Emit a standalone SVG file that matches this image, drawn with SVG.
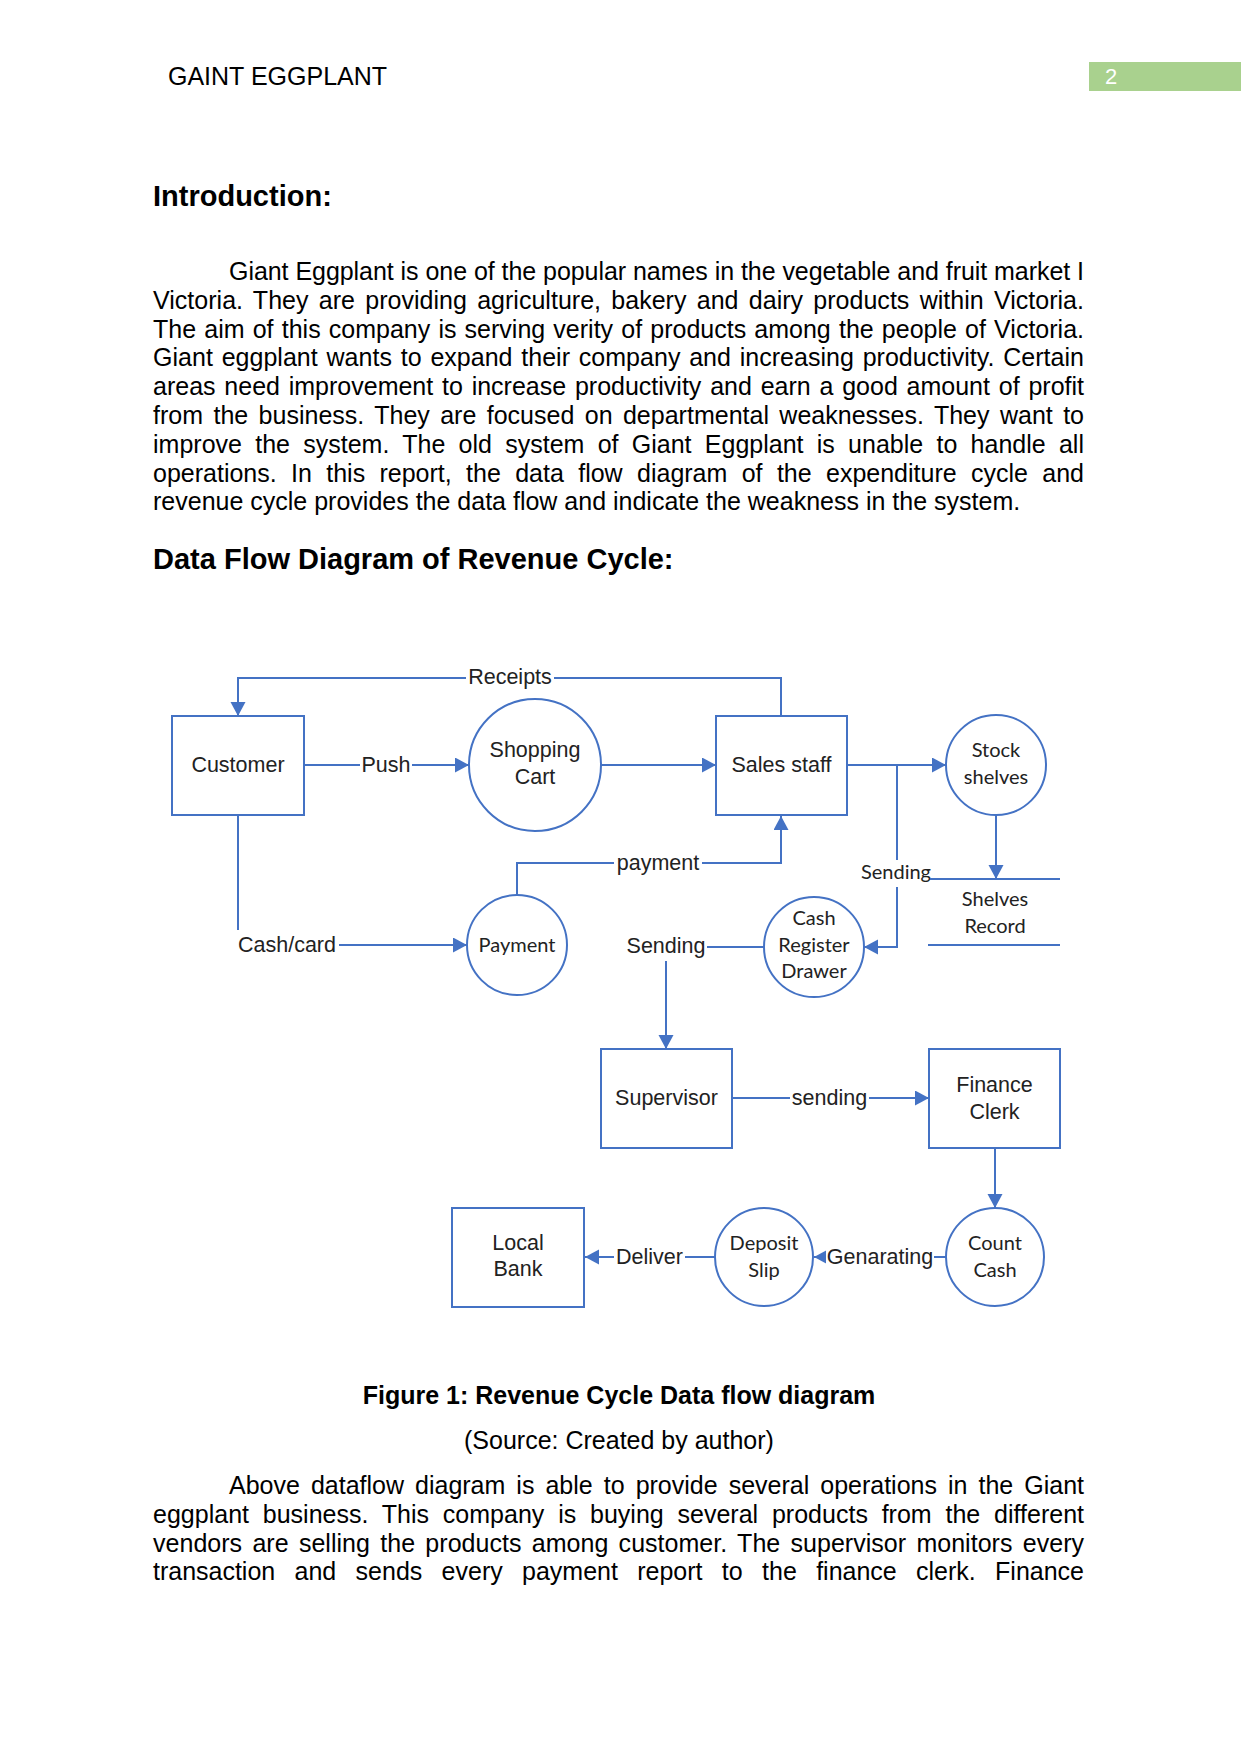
<svg xmlns="http://www.w3.org/2000/svg" width="1241" height="1754" viewBox="0 0 1241 1754">
<style>
.body{font-family:"Liberation Sans",Arial,sans-serif;font-size:25px;fill:#000}
.h{font-family:"Liberation Sans",Arial,sans-serif;font-size:29px;font-weight:bold;fill:#000}
.cap{font-family:"Liberation Sans",Arial,sans-serif;font-size:25px;fill:#000;text-anchor:middle}
.na{font-family:"Liberation Sans",Arial,sans-serif;font-size:21.5px;fill:#222;text-anchor:middle}
.nc{font-family:Lato,"Noto Sans",sans-serif;font-size:20px;fill:#222;text-anchor:middle}
.box{fill:#fff;stroke:#4472C4;stroke-width:2}
.ln{fill:none;stroke:#4472C4;stroke-width:2}
.bg{fill:#fff}
</style>
<defs>
<marker id="arr" markerUnits="userSpaceOnUse" markerWidth="16" markerHeight="16" refX="14" refY="7.5" orient="auto">
<path d="M0,0 L14,7.5 L0,15 z" fill="#4472C4"/>
</marker>
</defs>
<rect width="1241" height="1754" fill="#fff"/>

<!-- header -->
<text class="body" x="168" y="85" font-size="24">GAINT EGGPLANT</text>
<rect x="1089" y="62" width="152" height="29" fill="#A9D18E"/>
<text x="1105" y="84" font-family="Liberation Sans, Arial, sans-serif" font-size="22" fill="#fff">2</text>

<text class="h" x="153" y="206">Introduction:</text>

<text class="body" x="229" y="280" textLength="855" lengthAdjust="spacing">Giant Eggplant is one of the popular names in the vegetable and fruit market I</text>
<text class="body" x="153" y="308.8" word-spacing="3.3" textLength="931" lengthAdjust="spacing">Victoria. They are providing agriculture, bakery and dairy products within Victoria.</text>
<text class="body" x="153" y="337.6" word-spacing="1.2" textLength="931" lengthAdjust="spacing">The aim of this company is serving verity of products among the people of Victoria.</text>
<text class="body" x="153" y="366.4" word-spacing="1.8" textLength="931" lengthAdjust="spacing">Giant eggplant wants to expand their company and increasing productivity. Certain</text>
<text class="body" x="153" y="395.2" word-spacing="1.85" textLength="931" lengthAdjust="spacing">areas need improvement to increase productivity and earn a good amount of profit</text>
<text class="body" x="153" y="424" word-spacing="3.4" textLength="931" lengthAdjust="spacing">from the business. They are focused on departmental weaknesses. They want to</text>
<text class="body" x="153" y="452.8" word-spacing="6.3" textLength="931" lengthAdjust="spacing">improve the system. The old system of Giant Eggplant is unable to handle all</text>
<text class="body" x="153" y="481.6" word-spacing="7.4" textLength="931" lengthAdjust="spacing">operations. In this report, the data flow diagram of the expenditure cycle and</text>
<text class="body" x="153" y="510.4">revenue cycle provides the data flow and indicate the weakness in the system.</text>

<text class="h" x="153" y="568.5">Data Flow Diagram of Revenue Cycle:</text>

<!-- connectors -->
<g id="connectors">
<path class="ln" d="M781,716 V678 H238 V716" marker-end="url(#arr)"/>
<rect class="bg" x="466" y="665" width="88" height="26"/>
<text class="na" x="510" y="684">Receipts</text>

<path class="ln" d="M304,765 H469" marker-end="url(#arr)"/>
<rect class="bg" x="360" y="752" width="52" height="26"/>
<text class="na" x="386" y="772">Push</text>

<path class="ln" d="M601,765 H716" marker-end="url(#arr)"/>

<path class="ln" d="M847,765 H946" marker-end="url(#arr)"/>

<path class="ln" d="M897,765 V947 H864" marker-end="url(#arr)"/>
<rect class="bg" x="859" y="860" width="74" height="27"/>
<text class="nc" x="896" y="879">Sending</text>

<path class="ln" d="M996,815 V879" marker-end="url(#arr)"/>

<path class="ln" d="M517,896 V863 H781 V816" marker-end="url(#arr)"/>
<rect class="bg" x="614" y="850" width="88" height="26"/>
<text class="na" x="658" y="870">payment</text>

<path class="ln" d="M238,815 V945 H467" marker-end="url(#arr)"/>
<rect class="bg" x="236" y="930" width="103" height="27"/>
<text class="na" x="238" y="952" style="text-anchor:start">Cash/card</text>

<path class="ln" d="M764,947 H666 V1049" marker-end="url(#arr)"/>
<rect class="bg" x="624" y="930" width="83" height="31"/>
<text class="na" x="666" y="953">Sending</text>

<path class="ln" d="M732,1098 H929" marker-end="url(#arr)"/>
<rect class="bg" x="790" y="1084" width="79" height="28"/>
<text class="na" x="829.5" y="1105">sending</text>

<path class="ln" d="M995,1148 V1208" marker-end="url(#arr)"/>

<path class="ln" d="M946,1257 H814" marker-end="url(#arr)"/>
<rect class="bg" x="826" y="1243" width="108" height="28"/>
<text class="na" x="880" y="1264">Genarating</text>

<path class="ln" d="M715,1257 H585" marker-end="url(#arr)"/>
<rect class="bg" x="614" y="1243" width="71" height="28"/>
<text class="na" x="649.5" y="1264">Deliver</text>
</g>

<!-- nodes -->
<g id="customer">
<rect class="box" x="172" y="716" width="132" height="99"/>
<text class="na" x="238" y="772">Customer</text>
</g>
<g id="shopping-cart">
<circle class="box" cx="535" cy="765" r="66"/>
<text class="na" x="535" y="757">Shopping</text>
<text class="na" x="535" y="784">Cart</text>
</g>
<g id="sales-staff">
<rect class="box" x="716" y="716" width="131" height="99"/>
<text class="na" x="781.5" y="772">Sales staff</text>
</g>
<g id="stock-shelves">
<circle class="box" cx="996" cy="765" r="50"/>
<text class="nc" x="996" y="757">Stock</text>
<text class="nc" x="996" y="784">shelves</text>
</g>
<g id="shelves-record">
<line class="ln" x1="930" y1="879" x2="1060" y2="879"/>
<line class="ln" x1="928" y1="945" x2="1060" y2="945"/>
<text class="nc" x="995" y="906">Shelves</text>
<text class="nc" x="995" y="933">Record</text>
</g>
<g id="payment">
<circle class="box" cx="517" cy="945" r="50"/>
<text class="nc" x="517" y="952">Payment</text>
</g>
<g id="cash-register-drawer">
<circle class="box" cx="814" cy="947" r="50"/>
<text class="nc" x="814" y="925">Cash</text>
<text class="nc" x="814" y="952">Register</text>
<text class="nc" x="814" y="978">Drawer</text>
</g>
<g id="supervisor">
<rect class="box" x="601" y="1049" width="131" height="99"/>
<text class="na" x="666.5" y="1105">Supervisor</text>
</g>
<g id="finance-clerk">
<rect class="box" x="929" y="1049" width="131" height="99"/>
<text class="na" x="994.5" y="1092">Finance</text>
<text class="na" x="994.5" y="1119">Clerk</text>
</g>
<g id="local-bank">
<rect class="box" x="452" y="1208" width="132" height="99"/>
<text class="na" x="518" y="1250">Local</text>
<text class="na" x="518" y="1276">Bank</text>
</g>
<g id="deposit-slip">
<circle class="box" cx="764" cy="1257" r="49"/>
<text class="nc" x="764" y="1250">Deposit</text>
<text class="nc" x="764" y="1277">Slip</text>
</g>
<g id="count-cash">
<circle class="box" cx="995" cy="1257" r="49"/>
<text class="nc" x="995" y="1250">Count</text>
<text class="nc" x="995" y="1277">Cash</text>
</g>

<!-- caption -->
<text class="cap" x="619" y="1403.5" font-weight="bold">Figure 1: Revenue Cycle Data flow diagram</text>
<text class="cap" x="619" y="1449">(Source: Created by author)</text>

<text class="body" x="229" y="1494" word-spacing="4.1" textLength="855" lengthAdjust="spacing">Above dataflow diagram is able to provide several operations in the Giant</text>
<text class="body" x="153" y="1522.8" word-spacing="6.8" textLength="931" lengthAdjust="spacing">eggplant business. This company is buying several products from the different</text>
<text class="body" x="153" y="1551.6" word-spacing="3.3" textLength="931" lengthAdjust="spacing">vendors are selling the products among customer. The supervisor monitors every</text>
<text class="body" x="153" y="1580.4" word-spacing="12.4" textLength="931" lengthAdjust="spacing">transaction and sends every payment report to the finance clerk. Finance</text>
</svg>
